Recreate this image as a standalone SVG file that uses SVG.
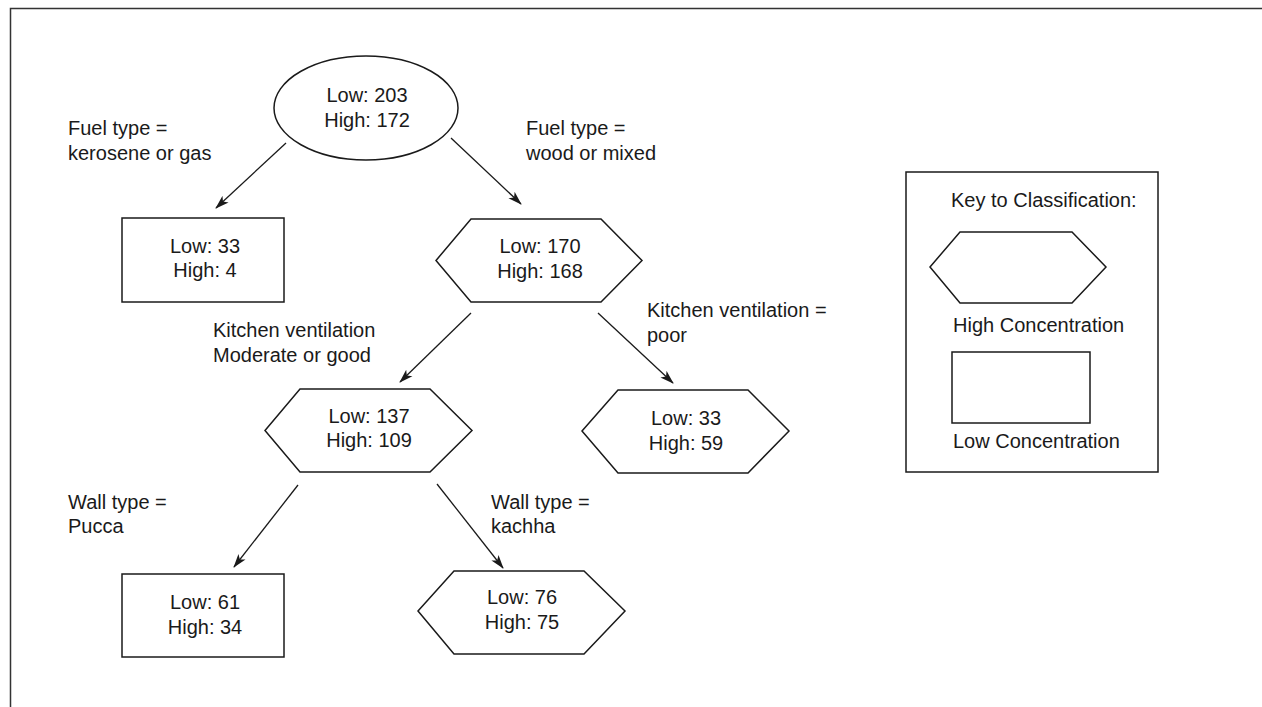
<svg xmlns="http://www.w3.org/2000/svg" width="1262" height="707" viewBox="0 0 1262 707">
<style>
.s{fill:#fff;stroke:#1a1a1a;stroke-width:1.5}
.t{font-family:"Liberation Sans",Arial,sans-serif;font-size:20px;fill:#1a1a1a}
.m{text-anchor:middle}
.c{stroke:#1a1a1a;stroke-width:1.3;fill:none;marker-end:url(#ah)}
</style>
<defs>
<marker id="ah" markerWidth="14" markerHeight="10" refX="13" refY="5" orient="auto" markerUnits="userSpaceOnUse">
<path d="M0,0.5 L14,5 L0,9.5 L3.5,5 z" fill="#1a1a1a"/>
</marker>
</defs>
<rect width="1262" height="707" fill="#fff"/>
<path d="M10.5,707 V8.5 H1262" fill="none" stroke="#333" stroke-width="1.5"/>
<g id="connectors">
<line class="c" x1="286" y1="143" x2="216" y2="208"/>
<line class="c" x1="451" y1="138" x2="521" y2="204"/>
<line class="c" x1="471" y1="313" x2="400" y2="382"/>
<line class="c" x1="598" y1="313" x2="673" y2="383"/>
<line class="c" x1="298" y1="485" x2="234" y2="567"/>
<line class="c" x1="437" y1="484" x2="503" y2="568"/>
</g>
<g id="labels">
<text class="t" x="68" y="135">Fuel type =</text>
<text class="t" x="68" y="160">kerosene or gas</text>
<text class="t" x="526" y="135">Fuel type =</text>
<text class="t" x="526" y="160">wood or mixed</text>
<text class="t" x="213" y="337">Kitchen ventilation</text>
<text class="t" x="213" y="362">Moderate or good</text>
<text class="t" x="647" y="317">Kitchen ventilation =</text>
<text class="t" x="647" y="342">poor</text>
<text class="t" x="68" y="509">Wall type =</text>
<text class="t" x="68" y="533">Pucca</text>
<text class="t" x="491" y="509">Wall type =</text>
<text class="t" x="491" y="533">kachha</text>
</g>
<g id="root">
<ellipse class="s" cx="366" cy="108" rx="92" ry="52"/>
<text class="t m" x="367" y="102">Low: 203</text>
<text class="t m" x="367" y="127">High: 172</text>
</g>
<g id="n-33-4">
<rect class="s" x="122" y="218" width="162" height="84"/>
<text class="t m" x="205" y="253">Low: 33</text>
<text class="t m" x="205" y="277">High: 4</text>
</g>
<g id="n-170-168">
<polygon class="s" points="436,260.5 471,219 601,219 642,260.5 601,302 471,302"/>
<text class="t m" x="540" y="253">Low: 170</text>
<text class="t m" x="540" y="278">High: 168</text>
</g>
<g id="n-137-109">
<polygon class="s" points="265,430.5 300,389 430,389 472,430.5 430,472 300,472"/>
<text class="t m" x="369" y="423">Low: 137</text>
<text class="t m" x="369" y="447">High: 109</text>
</g>
<g id="n-33-59">
<polygon class="s" points="582,431 618,390 748,390 789,431 748,473 618,473"/>
<text class="t m" x="686" y="425">Low: 33</text>
<text class="t m" x="686" y="450">High: 59</text>
</g>
<g id="n-61-34">
<rect class="s" x="122" y="574" width="162" height="83"/>
<text class="t m" x="205" y="609">Low: 61</text>
<text class="t m" x="205" y="634">High: 34</text>
</g>
<g id="n-76-75">
<polygon class="s" points="418,611 454,571 584,571 625,611 584,654 454,654"/>
<text class="t m" x="522" y="604">Low: 76</text>
<text class="t m" x="522" y="629">High: 75</text>
</g>
<g id="legend">
<rect class="s" x="906" y="172" width="252" height="300"/>
<text class="t" x="951" y="207">Key to Classification:</text>
<polygon class="s" points="930,267 960,232 1072,232 1106,267 1072,303 960,303"/>
<text class="t" x="953" y="332">High Concentration</text>
<rect class="s" x="952" y="352" width="138" height="71"/>
<text class="t" x="953" y="448">Low Concentration</text>
</g>
</svg>
